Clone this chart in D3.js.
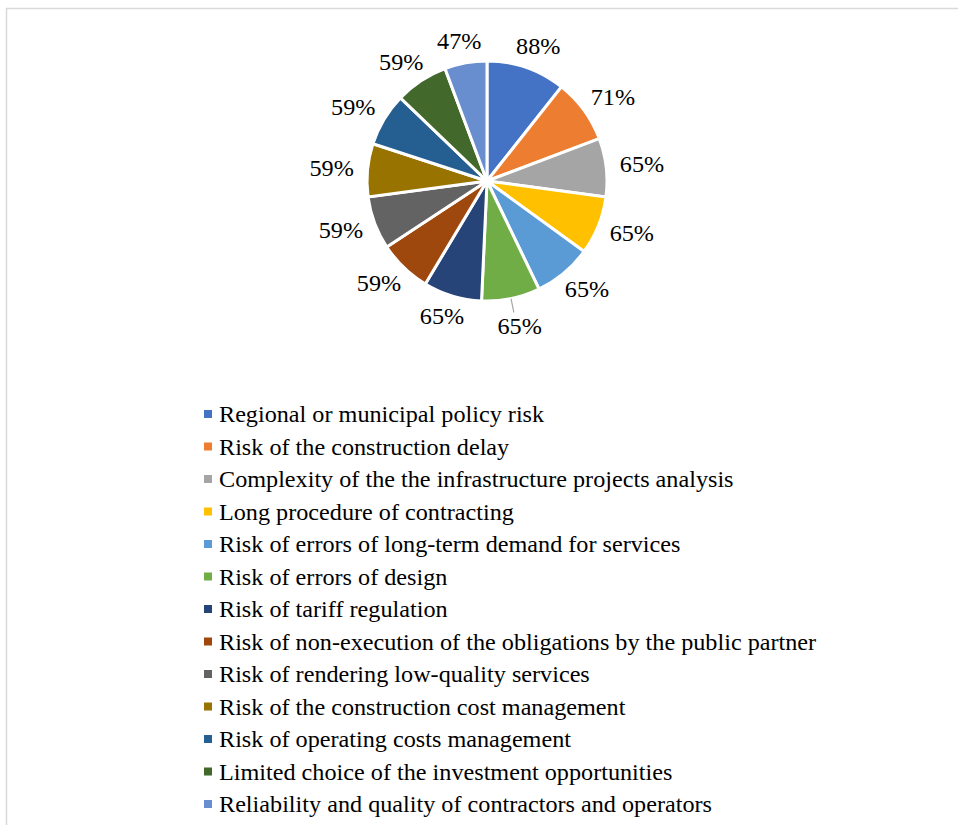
<!DOCTYPE html>
<html>
<head>
<meta charset="utf-8">
<script src="https://cdn.jsdelivr.net/npm/d3@7"></script>
</head>
<body style="margin:0">
<svg id="chart" width="958" height="825"></svg>
<script>
// ---- Data ----
const categories = [
  "Regional or municipal policy risk",
  "Risk of the construction delay",
  "Complexity of the the infrastructure projects analysis",
  "Long procedure of contracting",
  "Risk of errors of long-term demand for services",
  "Risk of errors of design",
  "Risk of tariff regulation",
  "Risk of non-execution of the obligations by the public partner",
  "Risk of rendering low-quality services",
  "Risk of the construction cost management",
  "Risk of operating costs management",
  "Limited choice of the investment opportunities",
  "Reliability and quality of contractors and operators"
];
const values = [88, 71, 65, 65, 65, 65, 65, 59, 59, 59, 59, 59, 47];
const valueLabels = ["88%", "71%", "65%", "65%", "65%", "65%", "65%", "59%", "59%", "59%", "59%", "59%", "47%"];
const colors = ["#4472C4", "#ED7D31", "#A5A5A5", "#FFC000", "#5B9BD5", "#70AD47",
                "#264478", "#9E480E", "#636363", "#997300", "#255E91", "#43682B", "#698ED0"];
const leaderLineSlices = [5];

// ---- Layout ----
const svg = d3.select("#chart");
const cx = 487, cy = 181, R = 120;
const serifFamily = "Liberation Serif";
const labelSize = 22.5;
const stretch = 1.075;

// Border
svg.append("rect")
  .attr("x", 6.5).attr("y", 8.5)
  .attr("width", 1000).attr("height", 1000)
  .attr("fill", "none")
  .attr("stroke", "#d9d9d9")
  .attr("stroke-width", 1.5);

const color = d3.scaleOrdinal().domain(categories).range(colors);

const pie = d3.pie().sort(null).value(d => d.value);
const data = categories.map((c, i) => ({ name: c, value: values[i], label: valueLabels[i], idx: i }));
const arcs = pie(data);

const arc = d3.arc().innerRadius(0).outerRadius(R);

const g = svg.append("g").attr("transform", `translate(${cx},${cy})`);

g.selectAll("path.slice")
  .data(arcs)
  .enter().append("path")
  .attr("class", "slice")
  .attr("d", arc)
  .attr("fill", d => color(d.data.name))
  .attr("stroke", "#fff")
  .attr("stroke-width", 3)
  .attr("stroke-linejoin", "miter");

// Labels
const boxW = 46, boxH = 18;
arcs.forEach(d => {
  const a = (d.startAngle + d.endAngle) / 2;
  const hasLeader = leaderLineSlices.includes(d.data.idx);
  const rA = hasLeader ? 140 : 133;
  const ax = rA * Math.sin(a), ay = -rA * Math.cos(a);
  const tx = ax + (boxW / 2) * Math.sin(a);
  const ty = ay - (boxH / 2) * Math.cos(a);
  if (hasLeader) {
    g.append("line")
      .attr("x1", R * Math.sin(a)).attr("y1", -R * Math.cos(a))
      .attr("x2", (R + 14) * Math.sin(a)).attr("y2", -(R + 14) * Math.cos(a))
      .attr("stroke", "#a6a6a6").attr("stroke-width", 1.2);
  }
  const t = g.append("text")
    .attr("x", tx).attr("y", ty + 7.5)
    .attr("text-anchor", "middle")
    .attr("font-size", labelSize)
    .style("font-family", serifFamily)
    .text(d.data.label);
  const len = t.node().getComputedTextLength();
  t.attr("textLength", len * stretch).attr("lengthAdjust", "spacingAndGlyphs");
});

// Legend
const legendX = 204, legendY0 = 422, legendStep = 32.5;
const items = svg.append("g").selectAll("g.item")
  .data(data)
  .enter().append("g")
  .attr("class", "item")
  .attr("transform", (d, i) => `translate(${legendX},${legendY0 + i * legendStep})`);
items.append("rect")
  .attr("x", 0).attr("y", -12)
  .attr("width", 8).attr("height", 8)
  .attr("fill", d => color(d.name));
items.append("text")
  .attr("x", 15).attr("y", 0)
  .attr("font-size", labelSize)
  .style("font-family", serifFamily)
  .text(d => d.name)
  .each(function() {
    const len = this.getComputedTextLength();
    d3.select(this).attr("textLength", len * stretch).attr("lengthAdjust", "spacingAndGlyphs");
  });
</script>
</body>
</html>
